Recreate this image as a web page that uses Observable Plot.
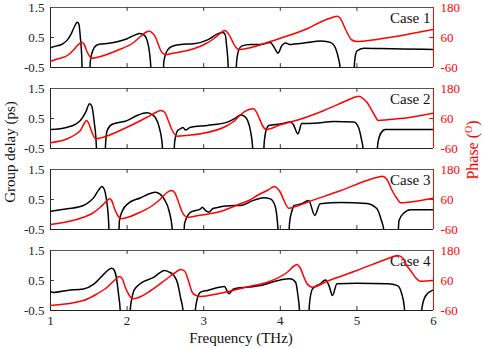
<!DOCTYPE html>
<html><head><meta charset="utf-8">
<script src="https://cdn.jsdelivr.net/npm/d3@7"></script>
<script src="https://cdn.jsdelivr.net/npm/@observablehq/plot@0.6"></script>
<style>
body{margin:0;background:#fff;}
#chart{position:relative;width:483px;height:348px;font-family:"Liberation Serif","Times New Roman",serif;overflow:hidden;}
#chart svg{position:absolute;left:0;overflow:visible;}
#chart svg text{font-family:"Liberation Serif","Times New Roman",serif;}
.lbl{position:absolute;white-space:nowrap;line-height:1;transform:translate(-50%,-50%);}
.rot{transform:translate(-50%,-50%) rotate(-90deg);}
</style></head><body><div id="chart"></div>
<script>
const cases = ["Case 1","Case 2","Case 3","Case 4"];
const xTicks = [1,2,3,4,5,6];
const innerXTicks = [2,3,4,5];
const delayTicks = [-0.5,0.5,1.5];
const phaseTicks = [-60,60,180];

// group delay (ps) [frequency THz, value]
const delay1 = [[1.00,0.16],[1.08,0.22],[1.16,0.29],[1.22,0.42],[1.27,0.62],[1.31,0.85],[1.35,1.01],[1.37,0.95],[1.39,0.5],[1.41,-0.3],[1.42,-1.5],[1.50,-1.5],[1.52,-0.3],[1.55,0.05],[1.59,0.22],[1.65,0.28],[1.74,0.30],[1.87,0.36],[2.00,0.46],[2.10,0.58],[2.16,0.63],[2.21,0.6],[2.25,0.48],[2.28,0.2],[2.31,-0.5],[2.32,-1.5],[2.46,-1.5],[2.48,-0.3],[2.52,0.05],[2.58,0.2],[2.70,0.27],[2.87,0.29],[3.05,0.42],[3.18,0.62],[3.25,0.67],[3.28,0.6],[3.30,0.2],[3.32,-0.5],[3.33,-1.5],[3.41,-1.5],[3.43,-0.3],[3.46,0.1],[3.50,0.22],[3.61,0.27],[3.74,0.27],[3.87,0.33],[3.92,0.17],[3.97,-0.02],[4.02,0.23],[4.07,0.32],[4.12,0.27],[4.18,0.28],[4.35,0.33],[4.52,0.38],[4.62,0.36],[4.68,0.3],[4.72,0.15],[4.76,-0.2],[4.78,-0.5],[4.79,-1.5],[4.95,-1.5],[4.97,-0.3],[5.00,0.05],[5.09,0.14],[5.30,0.13],[5.60,0.12],[6.00,0.10]];
const delay2 = [[1.00,0.13],[1.22,0.21],[1.32,0.3],[1.39,0.43],[1.46,0.71],[1.51,0.99],[1.54,0.9],[1.57,0.4],[1.60,-0.5],[1.61,-1.5],[1.70,-1.5],[1.72,-0.3],[1.74,0.1],[1.80,0.3],[2.00,0.43],[2.13,0.6],[2.26,0.69],[2.32,0.64],[2.37,0.53],[2.42,0.2],[2.46,-0.4],[2.47,-1.5],[2.60,-1.5],[2.62,-0.3],[2.66,0.1],[2.70,0.16],[2.73,0.2],[2.76,0.12],[2.83,0.21],[3.05,0.27],[3.31,0.38],[3.42,0.52],[3.48,0.62],[3.53,0.58],[3.57,0.45],[3.61,0.1],[3.64,-0.5],[3.65,-1.5],[3.77,-1.5],[3.79,-0.3],[3.82,0.15],[3.85,0.27],[4.00,0.32],[4.13,0.38],[4.17,0.3],[4.23,-0.01],[4.28,0.33],[4.44,0.34],[4.70,0.4],[4.96,0.38],[5.02,0.21],[5.06,-0.2],[5.08,-0.5],[5.09,-1.5],[5.25,-1.5],[5.27,-0.4],[5.31,0.0],[5.37,0.13],[5.60,0.13],[6.00,0.13]];
const delay3 = [[1.00,0.11],[1.22,0.19],[1.43,0.3],[1.52,0.45],[1.57,0.58],[1.63,0.82],[1.67,0.93],[1.70,0.85],[1.73,0.5],[1.76,-0.3],[1.77,-1.5],[1.88,-1.5],[1.90,-0.2],[1.94,0.13],[2.02,0.38],[2.17,0.55],[2.30,0.7],[2.37,0.74],[2.43,0.68],[2.48,0.53],[2.55,0.1],[2.59,-0.5],[2.60,-1.5],[2.73,-1.5],[2.75,-0.3],[2.83,0.08],[2.96,0.19],[2.98,0.24],[3.03,0.12],[3.07,0.08],[3.12,0.2],[3.39,0.3],[3.48,0.3],[3.65,0.47],[3.78,0.56],[3.87,0.52],[3.93,0.3],[3.97,-0.5],[3.98,-1.5],[4.10,-1.5],[4.12,-0.3],[4.15,0.1],[4.18,0.3],[4.27,0.35],[4.37,0.47],[4.45,-0.03],[4.52,0.36],[4.79,0.4],[5.13,0.37],[5.26,0.2],[5.32,-0.2],[5.35,-0.5],[5.36,-1.5],[5.52,-1.5],[5.55,-0.2],[5.61,0.04],[5.70,0.16],[6.00,0.16]];
const delay4 = [[1.00,0.14],[1.04,0.1],[1.22,0.17],[1.43,0.22],[1.57,0.39],[1.70,0.72],[1.77,0.88],[1.80,0.91],[1.83,0.85],[1.86,0.6],[1.89,0.0],[1.91,-0.5],[1.92,-1.5],[2.02,-1.5],[2.04,-0.5],[2.07,0.0],[2.09,0.17],[2.17,0.39],[2.35,0.61],[2.44,0.78],[2.48,0.83],[2.55,0.78],[2.61,0.67],[2.66,0.4],[2.70,-0.1],[2.73,-0.5],[2.74,-1.5],[2.87,-1.5],[2.89,-0.5],[2.93,0.0],[2.96,0.11],[3.05,0.17],[3.22,0.28],[3.27,0.3],[3.33,0.06],[3.39,0.22],[3.59,0.28],[3.74,0.33],[4.00,0.52],[4.13,0.56],[4.20,0.44],[4.23,0.0],[4.25,-0.5],[4.26,-1.5],[4.36,-1.5],[4.38,-0.3],[4.42,0.22],[4.52,0.39],[4.59,0.52],[4.64,0.3],[4.68,0.0],[4.74,0.39],[5.00,0.41],[5.40,0.39],[5.53,0.33],[5.58,0.1],[5.62,-0.4],[5.63,-1.5],[5.82,-1.5],[5.85,-0.4],[5.90,0.0],[6.00,0.19]];

// phase (degrees) [frequency THz, value]
const phase1 = [[1.00,-35],[1.10,-25],[1.22,-12],[1.30,10],[1.35,28],[1.41,41],[1.44,32],[1.48,1],[1.51,-15],[1.54,-23],[1.60,-20],[1.87,8],[2.09,41],[2.18,65],[2.24,80],[2.29,85],[2.33,78],[2.37,61],[2.41,30],[2.44,8],[2.47,-4],[2.50,-9],[2.60,-3],[2.87,15],[3.02,34],[3.13,55],[3.21,75],[3.27,88],[3.31,80],[3.35,61],[3.39,35],[3.42,21],[3.46,12],[3.59,18],[3.75,32],[4.00,57],[4.35,95],[4.57,128],[4.68,140],[4.74,145],[4.78,138],[4.80,128],[4.84,100],[4.87,81],[4.93,51],[5.00,44],[5.20,50],[5.44,61],[5.70,75],[6.00,92]];
const phase2 = [[1.00,-37],[1.22,-21],[1.33,-3],[1.39,12],[1.44,40],[1.47,52],[1.50,40],[1.54,5],[1.59,-21],[1.65,-18],[2.00,25],[2.26,65],[2.38,85],[2.44,92],[2.49,85],[2.54,50],[2.59,12],[2.65,-11],[2.80,-7],[2.96,-1],[3.31,32],[3.40,50],[3.48,75],[3.59,96],[3.65,99],[3.69,85],[3.72,65],[3.77,30],[3.82,16],[4.00,35],[4.24,55],[4.57,92],[4.87,132],[4.98,146],[5.02,149],[5.08,140],[5.13,125],[5.22,79],[5.28,52],[5.40,55],[5.66,63],[6.00,81]];
const phase3 = [[1.00,-40],[1.43,-11],[1.55,5],[1.65,29],[1.72,50],[1.77,63],[1.80,55],[1.84,20],[1.88,-5],[1.91,-17],[2.00,-12],[2.17,9],[2.35,40],[2.44,63],[2.52,88],[2.58,96],[2.62,88],[2.66,60],[2.72,9],[2.79,-11],[2.95,-3],[3.18,9],[3.48,43],[3.59,56],[3.70,76],[3.85,100],[3.92,112],[3.96,105],[4.00,89],[4.05,55],[4.11,25],[4.20,32],[4.35,49],[4.79,96],[5.13,136],[5.28,150],[5.33,153],[5.39,141],[5.46,96],[5.52,65],[5.57,47],[5.75,52],[6.00,65]];
const phase4 = [[1.00,-40],[1.43,-20],[1.60,5],[1.74,33],[1.84,62],[1.90,76],[1.94,65],[1.98,30],[2.02,5],[2.07,-13],[2.15,-8],[2.31,20],[2.52,67],[2.63,92],[2.70,104],[2.75,98],[2.80,60],[2.85,13],[2.90,0],[2.96,-4],[3.20,8],[3.59,36],[3.83,53],[4.09,93],[4.18,118],[4.22,124],[4.26,110],[4.32,65],[4.35,47],[4.42,33],[4.61,57],[5.00,100],[5.40,147],[5.53,160],[5.60,150],[5.65,120],[5.70,100],[5.77,70],[5.83,57],[6.00,60]];

const delays = [delay1,delay2,delay3,delay4];
const phases = [phase1,phase2,phase3,phase4];

const FONT = '"Liberation Serif","Times New Roman",serif';
const W = 483, PH = 60, ML = 50, MR = 50, MT = 7, GAP = 81;
const chart = document.getElementById("chart");

for (let i = 0; i < 4; i++) {
  const last = i === 3;
  const mb = last ? 30 : 4;
  const common = {
    width: W, height: PH + MT + mb, marginTop: MT, marginBottom: mb,
    marginLeft: ML, marginRight: MR,
    x: {domain: [1, 6]},
    style: {fontFamily: FONT, fontSize: "13px", background: "transparent", overflow: "visible"}
  };
  const dPlot = Plot.plot({
    ...common,
    y: {domain: [-0.5, 1.5]},
    marks: [
      Plot.ruleY([1.5], {stroke: "#555", strokeWidth: 1}),
      Plot.ruleY([-0.5], {stroke: "#222", strokeWidth: 1}),
      Plot.ruleX([1], {stroke: "#222", strokeWidth: 1}),
      Plot.ruleX(innerXTicks, {y1: 1.5, y2: 1.37, stroke: "#333"}),
      Plot.ruleX(innerXTicks, {y1: -0.5, y2: -0.37, stroke: "#333"}),
      Plot.ruleY([0.5], {x1: 1, x2: 1.05, stroke: "#333"}),
      Plot.line(delays[i], {x: d => d[0], y: d => d[1], stroke: "#000", strokeWidth: 1.5, curve: "monotone-x", clip: true}),
      Plot.axisY(delayTicks, {tickSize: 0, tickPadding: 6, tickFormat: d => String(d), label: null, fill: "#222"}),
      last ? Plot.axisX(xTicks, {tickSize: 0, tickPadding: 5, tickFormat: d => String(d), label: null, fill: "#222"})
           : Plot.axisX({ticks: [], label: null, tickSize: 0}),
      Plot.text([cases[i]], {frameAnchor: "top-right", dx: -3, dy: 11, textAnchor: "end", lineAnchor: "middle", fontSize: 15, fill: "#111"})
    ]
  });
  const pPlot = Plot.plot({
    ...common,
    y: {domain: [-60, 180]},
    marks: [
      Plot.ruleX([6], {stroke: "#ff0000", strokeWidth: 1}),
      Plot.ruleY([60], {x1: 5.95, x2: 6, stroke: "#ff0000"}),
      Plot.line(phases[i], {x: d => d[0], y: d => d[1], stroke: "#ff0000", strokeWidth: 1.5, curve: "monotone-x", clip: true}),
      Plot.axisY(phaseTicks, {anchor: "right", tickSize: 0, tickPadding: 7, tickFormat: d => String(d), label: null, fill: "#ff0000"}),
      Plot.axisX({ticks: [], label: null, tickSize: 0})
    ]
  });
  const top = i * GAP;
  dPlot.style.top = top + "px";
  pPlot.style.top = top + "px";
  chart.appendChild(dPlot);
  chart.appendChild(pPlot);
}

function addLabel(html, x, y, size, color, rotate) {
  const el = document.createElement("div");
  el.className = "lbl" + (rotate ? " rot" : "");
  el.innerHTML = html;
  el.style.left = x + "px";
  el.style.top = y + "px";
  el.style.fontSize = size + "px";
  el.style.color = color;
  chart.appendChild(el);
}
addLabel("Group delay (ps)", 10, 152, 15, "#111", true);
addLabel('Phase (<sup style="font-size:10px;vertical-align:6px">O</sup>)', 472, 150, 16, "#ff0000", true);
addLabel("Frequency (THz)", 241, 338, 15, "#111", false);
</script></body></html>
